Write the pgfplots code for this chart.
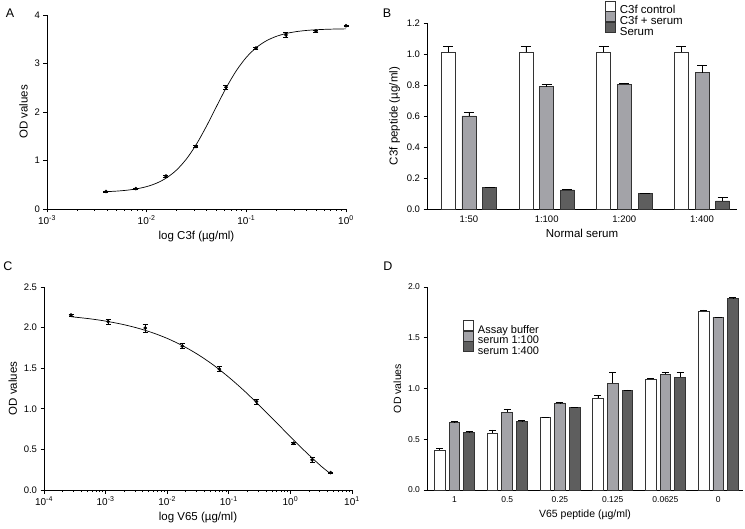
\documentclass[border=0pt]{standalone}
\usepackage{fontspec}
\setmainfont{Liberation Sans}
\usepackage{pgfplots}
\pgfplotsset{compat=1.18}

\definecolor{midgray}{HTML}{A3A3A8}
\definecolor{darkgray}{HTML}{5E5E5E}
\definecolor{edge}{HTML}{333333}

\pgfplotsset{
	panel/.style={
		scale only axis, anchor=south west, clip=false,
		axis lines=left, axis line style={-, line width=0.8pt},
		tick align=outside, tick style={black, line width=0.7pt},
		major tick length=3.5pt, minor tick length=2pt,
		/pgf/number format/assume math mode=true,
		tick label style={font=\fontsize{9.5}{11}\selectfont},
		label style={font=\fontsize{11.5}{13}\selectfont},
	},
	onedec/.style={yticklabel style={/pgf/number format/fixed, /pgf/number format/fixed zerofill, /pgf/number format/precision=1}},
	barpanel/.style={
		panel, x tick style={draw=none},
		legend cell align=left,
		legend style={draw=none, fill=none, inner sep=0pt, row sep=-3.5pt, column sep=4pt,
			nodes={inner sep=0pt, text height=9pt, text depth=1pt}},
	},
	pts/.style={only marks, mark=*, mark size=1.6pt, black,
		error bars/.cd, y dir=both, y explicit,
		error mark options={rotate=90, mark size=2.5pt, line width=0.6pt},
		error bar style={line width=0.6pt}},
	fit/.style={black, line width=0.7pt, smooth, no marks},
	% fill colour, cap half-width
	bar/.style 2 args={draw=edge, line width=0.7pt, fill=#1,
		legend image code/.code={\draw[##1] (0pt,-1pt) rectangle (10pt,9pt);},
		error bars/.cd, y dir=plus, y explicit,
		error bar style={black, line width=0.6pt},
		error mark options={rotate=90, mark size=#2, line width=0.6pt}},
}

\begin{document}
\begin{tikzpicture}
\useasboundingbox (0pt,0pt) rectangle (745pt,528pt);

% A
\begin{axis}[panel, at={(47pt,319pt)}, width=299pt, height=194pt,
	xmode=log, xmin=0.001, xmax=1, ymin=0, ymax=4, ytick={0,1,2,3,4},
	xtick={0.001,0.01,0.1,1},
	xticklabel style={font=\fontsize{10}{11}\selectfont},
	xticklabels={10\textsuperscript{-3},10\textsuperscript{-2},10\textsuperscript{-1},10\textsuperscript{0}},
	minor xtick={0.002,0.003,0.004,0.005,0.006,0.007,0.008,0.009,0.02,0.03,0.04,0.05,0.06,0.07,0.08,0.09,0.2,0.3,0.4,0.5,0.6,0.7,0.8,0.9},
	xlabel={log C3f (µg/ml)}, ylabel={OD values}]
	\addplot[fit] coordinates {
		(0.0039,0.357) (0.005012,0.369) (0.00631,0.387) (0.007943,0.416) (0.01,0.462)
		(0.012589,0.533) (0.015849,0.642) (0.019953,0.804) (0.025119,1.034) (0.031623,1.338)
		(0.039811,1.707) (0.050119,2.111) (0.063096,2.507) (0.079433,2.853) (0.1,3.127)
		(0.125893,3.328) (0.158489,3.467) (0.199526,3.559) (0.251189,3.619) (0.316228,3.657)
		(0.398107,3.681) (0.501187,3.696) (0.630957,3.705) (0.794328,3.711) (1,3.714)};
	\addplot[pts] coordinates {
		(0.00390625,0.36) +- (0,0.01) (0.0078125,0.42) +- (0,0.01) (0.015625,0.68) +- (0,0.02)
		(0.03125,1.29) +- (0,0.02) (0.0625,2.51) +- (0,0.04) (0.125,3.32) +- (0,0.02)
		(0.25,3.59) +- (0,0.06) (0.5,3.67) +- (0,0.02) (1,3.78) +- (0,0.01)};
\end{axis}

% B
\begin{axis}[barpanel, onedec, at={(427pt,319pt)}, width=310pt, height=186pt,
	ybar=6.7pt, bar width=14pt, xmin=-0.54, xmax=3.45, ymin=0, ymax=1.2,
	ytick={0,0.2,0.4,0.6,0.8,1.0,1.2},
	xtick={0,1,2,3}, xticklabels={1:50,1:100,1:200,1:400},
	xlabel={Normal serum}, ylabel={C3f peptide (µg/ml)},
	legend style={at={(0.574,1.122)}, anchor=north west, font=\fontsize{11.5}{13}\selectfont}]
	\addplot[bar={white}{5pt}] coordinates {
		(0,1.01) +- (0,0.04) (1,1.01) +- (0,0.04) (2,1.01) +- (0,0.04) (3,1.01) +- (0,0.04)};
	\addplot[bar={midgray}{5pt}] coordinates {
		(0,0.60) +- (0,0.025) (1,0.79) +- (0,0.015) (2,0.805) +- (0,0.008) (3,0.88) +- (0,0.045)};
	\addplot[bar={darkgray}{5pt}] coordinates {
		(0,0.14) +- (0,0.003) (1,0.123) +- (0,0.003) (2,0.10) +- (0,0.002) (3,0.052) +- (0,0.025)};
	\legend{C3f control, C3f + serum, Serum}
\end{axis}

% C
\begin{axis}[panel, onedec, at={(44pt,38pt)}, width=308pt, height=203pt,
	xmode=log, xmin=0.0001, xmax=10, ymin=0, ymax=2.5, ytick={0,0.5,1,1.5,2,2.5},
	xtick={0.0001,0.001,0.01,0.1,1,10},
	xticklabel style={font=\fontsize{10}{11}\selectfont},
	xticklabels={10\textsuperscript{-4},10\textsuperscript{-3},10\textsuperscript{-2},10\textsuperscript{-1},10\textsuperscript{0},10\textsuperscript{1}},
	minor xtick={0.0002,0.0003,0.0004,0.0005,0.0006,0.0007,0.0008,0.0009,0.002,0.003,0.004,0.005,0.006,0.007,0.008,0.009,0.02,0.03,0.04,0.05,0.06,0.07,0.08,0.09,0.2,0.3,0.4,0.5,0.6,0.7,0.8,0.9,2,3,4,5,6,7,8,9},
	xlabel={log V65 (µg/ml)}, ylabel={OD values}]
	\addplot[fit] coordinates {
		(0.0002754,2.134) (0.0005623,2.108) (0.001,2.080) (0.001778,2.044) (0.003162,1.998)
		(0.005623,1.940) (0.01,1.867) (0.01778,1.777) (0.03162,1.668) (0.05623,1.539)
		(0.1,1.389) (0.1778,1.222) (0.3162,1.039) (0.5623,0.848) (1,0.656)
		(1.778,0.468) (3.162,0.293) (4.487,0.200)};
	\addplot[pts] coordinates {
		(0.000275,2.155) +- (0,0.01) (0.0011,2.073) +- (0,0.03) (0.0044,1.996) +- (0,0.05)
		(0.0176,1.771) +- (0,0.03) (0.0703,1.49) +- (0,0.03) (0.28125,1.09) +- (0,0.03)
		(1.125,0.576) +- (0,0.01) (2.25,0.371) +- (0,0.03) (4.5,0.215) +- (0,0.005)};
\end{axis}

% D
\begin{axis}[barpanel, onedec, at={(427pt,38pt)}, width=316pt, height=203pt,
	ybar=4pt, bar width=10.7pt, xmin=-0.52, xmax=5.47, ymin=0, ymax=2, ytick={0,0.5,1,1.5,2},
	tick label style={font=\fontsize{8.5}{10}\selectfont},
	label style={font=\fontsize{10.5}{12}\selectfont},
	xtick={0,1,2,3,4,5}, xticklabels={1,0.5,0.25,0.125,0.0625,0},
	xlabel={V65 peptide (µg/ml)}, ylabel={OD values},
	legend style={at={(0.114,0.84)}, anchor=north west, font=\fontsize{11}{12}\selectfont}]
	\addplot[bar={white}{3.5pt}] coordinates {
		(0,0.395) +- (0,0.02) (1,0.563) +- (0,0.03) (2,0.712) +- (0,0.006)
		(3,0.907) +- (0,0.03) (4,1.093) +- (0,0.007) (5,1.762) +- (0,0.012)};
	\addplot[bar={midgray}{3.5pt}] coordinates {
		(0,0.668) +- (0,0.006) (1,0.766) +- (0,0.033) (2,0.858) +- (0,0.004)
		(3,1.054) +- (0,0.105) (4,1.138) +- (0,0.02) (5,1.702) +- (0,0.004)};
	\addplot[bar={darkgray}{3.5pt}] coordinates {
		(0,0.570) +- (0,0.006) (1,0.674) +- (0,0.01) (2,0.812) +- (0,0.003)
		(3,0.982) +- (0,0.004) (4,1.11) +- (0,0.045) (5,1.885) +- (0,0.016)};
	\legend{Assay buffer, serum 1:100, serum 1:400}
\end{axis}

\node[font=\fontsize{12.5}{14}\selectfont] at (10pt,515pt) {A};
\node[font=\fontsize{12.5}{14}\selectfont] at (387pt,515pt) {B};
\node[font=\fontsize{12.5}{14}\selectfont] at (8pt,262pt) {C};
\node[font=\fontsize{12.5}{14}\selectfont] at (388pt,262pt) {D};
\end{tikzpicture}
\end{document}
